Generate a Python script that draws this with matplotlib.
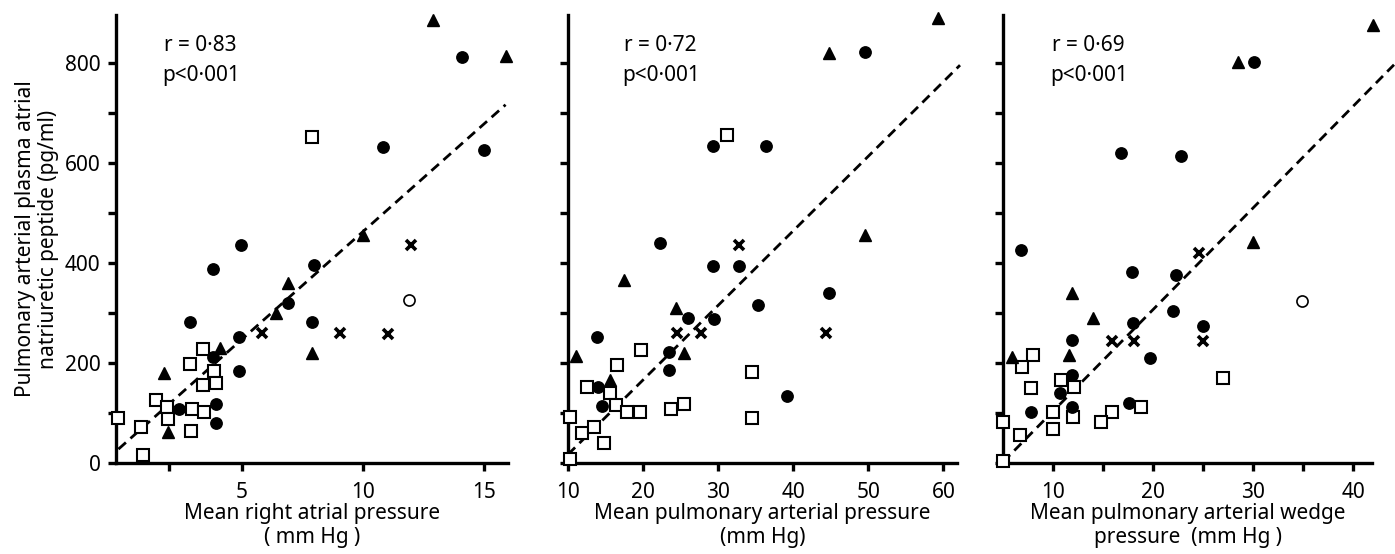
import numpy as np
import matplotlib.pyplot as plt

plt.rcParams['font.family'] = ['Noto Sans', 'DejaVu Sans']

# --- panel 1: mean right atrial pressure ---
ra_sq_x = [-0.1, 0.85, 0.9, 1.45, 1.9, 1.95, 2.95, 2.9, 3.45, 3.4, 2.85, 3.85, 3.4, 3.95, 7.9]
ra_sq_y = [90, 72, 16, 126, 112, 88, 108, 64, 102, 228, 198, 184, 156, 160, 652]
ra_ci_x = [14.1, 10.85, 15.0, 4.95, 3.8, 8.0, 6.9, 2.85, 7.9, 4.9, 3.8, 4.9, 2.4, 3.95, 3.95]
ra_ci_y = [812, 632, 625, 436, 388, 396, 320, 282, 282, 252, 212, 184, 108, 118, 80]
ra_tr_x = [12.9, 15.9, 10.0, 6.9, 6.4, 4.1, 1.8, 1.95, 7.9]
ra_tr_y = [886, 814, 456, 360, 300, 230, 180, 62, 220]
ra_cr_x = [12.0, 5.85, 9.05, 11.05]
ra_cr_y = [436, 260, 260, 258]
ra_oc_x = [11.9]
ra_oc_y = [326]

# --- panel 2: mean pulmonary arterial pressure ---
pa_sq_x = [31.2, 19.7, 16.5, 34.5, 12.5, 15.6, 16.4, 17.9, 19.6, 23.7, 25.5, 34.5, 10.3, 11.8, 13.5, 14.8, 10.2]
pa_sq_y = [656, 226, 196, 182, 152, 140, 116, 102, 102, 108, 118, 90, 92, 60, 72, 40, 8]
pa_ci_x = [49.5, 29.3, 36.4, 22.3, 29.3, 32.8, 44.7, 35.3, 26.0, 29.5, 13.9, 23.5, 23.5, 14.0, 39.2, 14.5]
pa_ci_y = [822, 634, 634, 440, 394, 394, 340, 316, 290, 288, 252, 222, 186, 152, 134, 114]
pa_tr_x = [59.3, 44.7, 49.6, 17.5, 24.4, 11.1, 25.5, 15.6]
pa_tr_y = [890, 820, 456, 365, 310, 214, 220, 166]
pa_cr_x = [32.8, 24.5, 27.7, 44.4]
pa_cr_y = [436, 260, 260, 260]

# --- panel 3: mean pulmonary arterial wedge pressure ---
pw_sq_x = [8.0, 6.9, 10.8, 12.1, 7.8, 27.0, 10.0, 12.0, 18.8, 15.9, 14.8, 10.0, 5.0, 6.7, 5.0]
pw_sq_y = [216, 192, 166, 152, 150, 170, 102, 92, 112, 102, 82, 68, 82, 56, 4]
pw_ci_x = [30.1, 16.8, 22.8, 6.8, 17.9, 22.3, 22.0, 18.0, 25.0, 11.9, 19.7, 11.9, 10.7, 7.8, 11.9, 17.6]
pw_ci_y = [802, 620, 614, 426, 382, 376, 304, 280, 274, 246, 210, 176, 140, 102, 112, 120]
pw_tr_x = [42.0, 28.5, 30.0, 11.9, 14.0, 5.9, 11.6]
pw_tr_y = [876, 802, 442, 340, 290, 212, 216]
pw_cr_x = [24.6, 15.9, 18.1, 25.0]
pw_cr_y = [420, 244, 244, 244]
pw_oc_x = [34.9]
pw_oc_y = [324]

# regression lines: intercept, slope, x range
ra_fit = (32, 43.0, -0.1, 15.9)
pa_fit = (-132, 14.9, 10.0, 62.2)
pw_fit = (-99.6, 20.3, 5.0, 44.1)

stats = [("r = 0·83", "p<0·001"), ("r = 0·72", "p<0·001"), ("r = 0·69", "p<0·001")]
stat_x = [0.122, 0.145, 0.133]
xlabels = ["Mean right atrial pressure\n( mm Hg )",
           "Mean pulmonary arterial pressure\n(mm Hg)",
           "Mean pulmonary arterial wedge\npressure  (mm Hg )"]
xlims = [(-0.2, 16.0), (10, 61.8), (5, 41.9)]
xmajor = [[5, 10, 15], [10, 20, 30, 40, 50, 60], [10, 20, 30, 40]]
xminor = [[2], [], [15, 25, 35]]

panels = [
    dict(sq=(ra_sq_x, ra_sq_y), ci=(ra_ci_x, ra_ci_y), tr=(ra_tr_x, ra_tr_y),
         cr=(ra_cr_x, ra_cr_y), oc=(ra_oc_x, ra_oc_y), fit=ra_fit),
    dict(sq=(pa_sq_x, pa_sq_y), ci=(pa_ci_x, pa_ci_y), tr=(pa_tr_x, pa_tr_y),
         cr=(pa_cr_x, pa_cr_y), oc=([], []), fit=pa_fit),
    dict(sq=(pw_sq_x, pw_sq_y), ci=(pw_ci_x, pw_ci_y), tr=(pw_tr_x, pw_tr_y),
         cr=(pw_cr_x, pw_cr_y), oc=(pw_oc_x, pw_oc_y), fit=pw_fit),
]

fig = plt.figure(figsize=(13.95, 5.54), dpi=100)
lefts = [116, 568, 1003]
rights = [508, 957, 1372]
bottom, top = 463, 15
W, H = 1395, 554

for i, p in enumerate(panels):
    ax = fig.add_axes([lefts[i] / W, 1 - bottom / H,
                       (rights[i] - lefts[i]) / W, (bottom - top) / H])
    ax.set_xlim(*xlims[i])
    ax.set_ylim(0, 895)
    for s in ['top', 'right']:
        ax.spines[s].set_visible(False)
    for s in ['left', 'bottom']:
        ax.spines[s].set_linewidth(2.4)

    a, b, x0, x1 = p['fit']
    xs = np.array([x0, x1])
    ax.plot(xs, a + b * xs, color='k', ls=(0, (3.6, 2.2)), lw=2.0, clip_on=False)

    kw = dict(ls='none', clip_on=False, zorder=3)
    ax.plot(*p['sq'], marker='s', ms=8, mfc='white', mec='k', mew=1.5, **kw)
    ax.plot(*p['ci'], marker='o', ms=8.2, mfc='k', mec='k', **kw)
    ax.plot(*p['tr'], marker='^', ms=8.8, mfc='k', mec='k', **kw)
    ax.plot(*p['cr'], marker='x', ms=6.5, mec='k', mew=2.6, **kw)
    ax.plot(*p['oc'], marker='o', ms=8, mfc='white', mec='k', mew=1.2, **kw)

    ax.set_xticks(xmajor[i])
    ax.set_xticks(xminor[i], minor=True)
    ax.set_yticks([0, 200, 400, 600, 800])
    ax.set_yticks([100, 300, 500, 700], minor=True)
    ax.tick_params(axis='both', which='both', direction='out', width=2.4,
                   length=6, labelsize=15, pad=8)
    ax.tick_params(axis='y', which='both', pad=5)
    if i > 0:
        ax.set_yticklabels([])

    ax.text(stat_x[i], 0.932, stats[i][0], transform=ax.transAxes, fontsize=15,
            va='center', ha='left')
    ax.text(stat_x[i] - 0.005, 0.866, stats[i][1], transform=ax.transAxes, fontsize=15,
            va='center', ha='left')
    ax.set_xlabel(xlabels[i], fontsize=15, labelpad=0, linespacing=1.15)

    if i == 0:
        ax.set_ylabel("Pulmonary arterial plasma atrial\nnatriuretic peptide (pg/ml)",
                      fontsize=15, labelpad=4, linespacing=1.15)

fig.savefig("out.png", dpi=100)
